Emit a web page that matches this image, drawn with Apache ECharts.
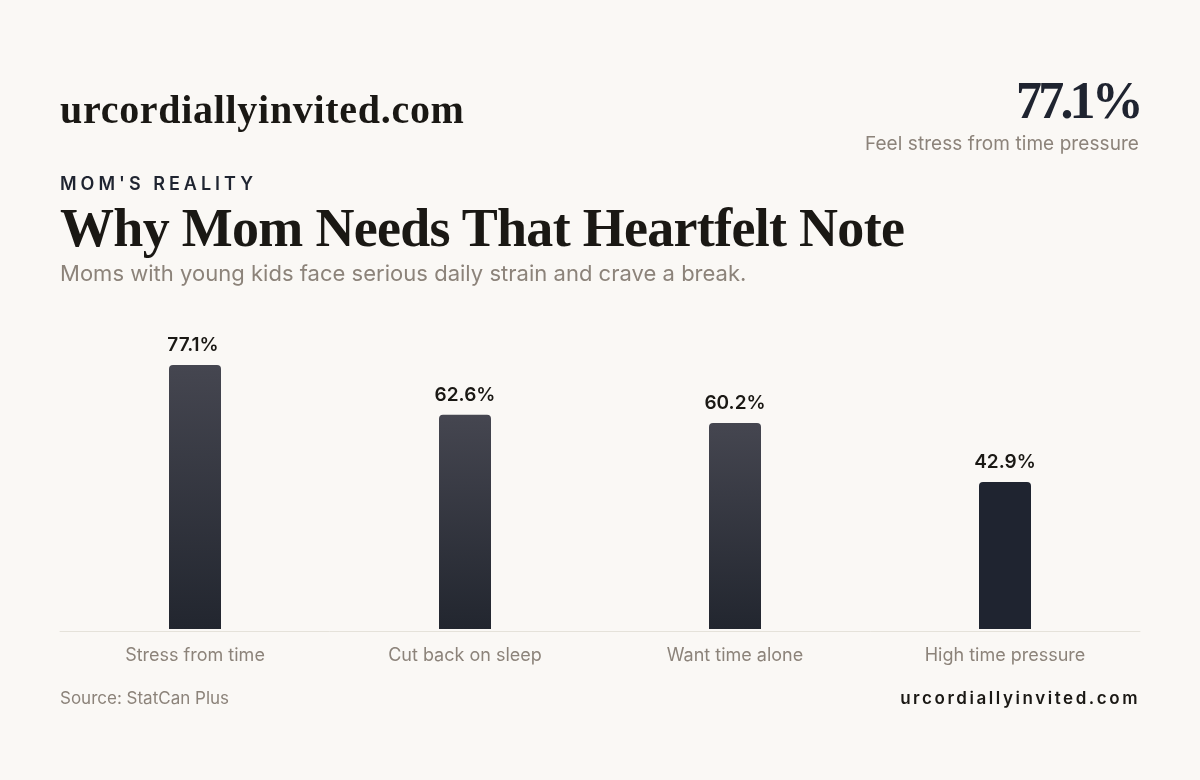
<!DOCTYPE html>
<meta charset="utf-8" />
<title>Why Mom Needs That Heartfelt Note</title>
<style>
html, body {
  margin: 0;
  height: 100%;
  background: #faf8f5;
  overflow: hidden;
}
#chart {
  position: absolute;
  left: 0;
  top: 0;
  width: 1200px;
  height: 780px;
}
.t {
  position: absolute;
  white-space: nowrap;
  line-height: 1;
  font-family: Inter, sans-serif;
  z-index: 1;
}
.serif {
  font-family: "Liberation Serif", serif;
  font-weight: 700;
}
#brand { left: 60px; top: 90px; font-size: 40px; letter-spacing: 0.7px; color: #1a1814; }
#stat { right: 60px; top: 75px; font-size: 52px; letter-spacing: -3.8px; color: #1f2430; }
#statLabel { right: 61px; top: 134px; font-size: 19px; letter-spacing: 0.07px; color: #8c837a; }
#eyebrow { left: 60px; top: 175px; font-size: 18px; font-weight: 600; letter-spacing: 4px; color: #1f2430; }
#title { left: 60px; top: 201px; font-size: 54px; letter-spacing: -0.7px; color: #1a1814; }
#subtitle { left: 60px; top: 262px; font-size: 22px; letter-spacing: 0.02px; color: #8c837a; }
#source { left: 60px; top: 690px; font-size: 17px; color: #8c837a; }
#siteFoot { right: 60px; top: 690px; font-size: 17px; font-weight: 600; letter-spacing: 2.55px; color: #1a1814; }
</style>
<div class="t serif" id="brand">urcordiallyinvited.com</div>
<div class="t serif" id="stat">77.1%</div>
<div class="t" id="statLabel">Feel stress from time pressure</div>
<div class="t" id="eyebrow">MOM'S REALITY</div>
<div class="t serif" id="title">Why Mom Needs That Heartfelt Note</div>
<div class="t" id="subtitle">Moms with young kids face serious daily strain and crave a break.</div>
<div class="t" id="source">Source: StatCan Plus</div>
<div class="t" id="siteFoot">urcordiallyinvited.com</div>
<div id="chart"></div>
<script src="https://cdn.jsdelivr.net/npm/echarts@6/dist/echarts.min.js"></script>
<script>
const categories = ['Stress from time', 'Cut back on sleep', 'Want time alone', 'High time pressure'];
const values = [77.1, 62.6, 60.2, 42.9];

// the last bar is flat, the others fade
const fade = new echarts.graphic.LinearGradient(0, 0, 0, 1, [
  { offset: 0, color: '#454650' },
  { offset: 1, color: '#22262f' }
]);

const chart = echarts.init(document.getElementById('chart'));
chart.setOption({
  animation: false,
  backgroundColor: 'transparent',
  grid: { left: 60, right: 60, top: 355.1, bottom: 151 },
  xAxis: {
    type: 'category',
    data: categories,
    offset: 2,
    axisTick: { show: false },
    // offset is ignored while the line sits on zero
    axisLine: { onZero: false, lineStyle: { color: '#e5e2da', width: 1 } },
    axisLabel: {
      margin: 16,
      fontFamily: 'Inter',
      fontSize: 18,
      color: '#8c837a'
    }
  },
  yAxis: { type: 'value', min: 0, max: 80, show: false },
  series: [
    {
      type: 'bar',
      barWidth: 52,
      data: values.map((value, i) => ({
        value,
        itemStyle: { color: i === values.length - 1 ? '#1f2430' : fade },
        label: i === 0 ? { offset: [-2, 0] } : undefined
      })),
      itemStyle: { borderRadius: [4, 4, 0, 0] },
      label: {
        show: true,
        position: 'top',
        distance: 10,
        formatter: ({ value }) => value + '%',
        fontFamily: 'Inter',
        fontSize: 19,
        fontWeight: 600,
        color: '#1a1814'
      }
    }
  ]
});
</script>
